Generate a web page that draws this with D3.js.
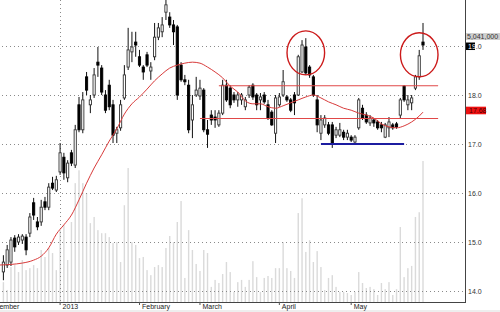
<!DOCTYPE html>
<html>
<head>
<meta charset="utf-8">
<script src="https://cdn.jsdelivr.net/npm/d3@7"></script>
<style>
  body { margin: 0; background: #fff; }
  svg { display: block; font-family: "Liberation Sans", Arial, sans-serif; }
</style>
</head>
<body>
<div id="chart"></div>
<script>
// daily candles, index 0 = first bar on screen
var opens = [14.39,14.53,14.59,15.08,15.00,15.04,15.10,15.18,15.80,15.41,
  15.41,15.82,15.71,16.20,16.06,16.43,16.73,16.31,16.82,16.57,
  17.80,17.29,18.37,17.80,18.00,18.67,18.55,18.00,18.20,17.80,
  17.22,17.33,17.94,18.57,18.88,19.08,18.78,18.57,18.82,18.49,
  18.78,19.18,19.29,19.69,19.59,19.43,19.39,18.61,18.31,18.20,
  17.49,18.00,17.98,18.10,17.29,17.59,17.55,17.39,17.63,18.20,
  18.14,18.00,17.90,17.90,17.76,18.00,18.20,18.00,17.90,18.00,
  17.80,17.65,17.22,17.80,18.00,17.96,17.90,18.00,18.00,18.47,
  18.98,18.57,18.37,17.90,17.22,17.39,17.39,17.39,17.18,17.18,
  17.24,17.14,17.14,17.04,17.33,17.73,17.59,17.43,17.49,17.45,
  17.39,17.14,17.33,17.39,17.41,17.59,18.18,17.80,17.84,18.14,
  18.37,19.08];
var highs = [14.73,14.94,15.10,15.14,15.16,15.16,15.16,15.59,15.90,15.51,
  15.86,15.92,16.20,16.33,16.35,17.02,16.82,16.67,16.88,17.39,
  17.96,18.06,18.47,18.00,18.55,18.98,18.61,18.10,18.31,17.90,
  17.35,17.90,18.61,19.37,19.29,19.29,18.92,18.61,18.88,18.67,
  19.47,19.47,19.59,19.94,19.69,19.53,19.43,18.67,18.41,18.31,
  18.00,18.37,18.31,18.14,17.49,17.69,17.69,17.69,18.31,18.31,
  18.20,18.06,18.06,18.04,17.96,18.20,18.24,18.04,18.04,18.06,
  17.90,17.69,18.00,18.04,18.51,18.00,17.94,18.06,18.82,19.12,
  19.16,18.61,18.41,18.00,17.59,17.59,17.45,17.45,17.35,17.43,
  17.29,17.29,17.18,17.18,17.94,17.80,17.65,17.59,17.53,17.49,
  17.45,17.43,17.55,17.43,17.45,17.94,18.20,18.00,18.00,18.41,
  18.92,19.47];
var lows = [14.22,14.47,14.51,14.80,14.94,14.96,14.73,15.10,15.45,15.24,
  15.33,15.65,15.65,16.06,16.02,16.37,16.27,16.22,16.55,16.51,
  17.24,17.22,18.00,17.63,17.94,18.37,18.00,17.63,17.69,17.02,
  17.02,17.27,17.90,18.51,18.67,18.78,18.57,18.31,18.57,18.31,
  18.71,19.12,19.18,19.53,19.37,19.02,17.90,18.27,18.20,17.22,
  17.12,17.96,17.90,17.24,16.92,17.39,17.33,17.35,17.59,17.86,
  17.73,17.84,17.76,17.80,17.69,17.94,17.90,17.69,17.69,17.82,
  17.49,17.37,17.02,17.76,17.96,17.86,17.65,17.59,17.98,18.45,
  18.41,18.35,17.96,17.24,17.08,17.33,17.18,16.92,17.12,17.14,
  17.08,17.08,17.04,16.98,17.29,17.49,17.41,17.37,17.35,17.29,
  17.24,17.12,17.14,17.29,17.31,17.53,17.86,17.69,17.69,18.10,
  18.31,18.92];
var closes = [14.59,14.84,15.04,14.90,15.10,15.12,14.84,15.51,15.55,15.31,
  15.71,15.71,16.12,16.10,16.27,16.82,16.41,16.61,16.61,17.29,
  17.29,17.90,18.10,17.90,18.41,18.61,18.06,17.69,17.76,17.18,
  17.29,17.80,18.41,18.92,18.98,19.02,18.61,18.47,18.61,18.57,
  19.18,19.37,19.43,19.84,19.43,19.29,18.00,18.31,18.27,17.29,
  17.80,18.10,18.14,17.29,17.20,17.49,17.49,17.63,18.20,17.90,
  17.80,17.90,18.00,18.00,17.90,18.16,17.96,17.80,17.96,17.86,
  17.53,17.39,17.94,17.96,18.27,17.90,17.69,17.84,18.78,19.02,
  18.45,18.41,18.00,17.39,17.49,17.53,17.22,17.02,17.29,17.29,
  17.14,17.22,17.08,17.14,17.90,17.53,17.45,17.53,17.43,17.33,
  17.33,17.39,17.45,17.33,17.35,17.90,17.90,17.90,17.94,18.37,
  18.80,19.02];
// volume in millions of shares
var volumes = [0.71,0.43,1.25,1.32,1.07,1.50,1.14,1.21,1.32,1.21,
  1.86,1.61,1.93,1.75,1.14,2.57,2.75,1.50,2.86,4.25,
  4.71,4.25,3.89,2.82,3.04,2.57,2.46,2.46,2.32,2.11,
  2.14,1.43,3.46,4.79,2.14,2.04,1.57,1.61,1.14,0.96,
  1.25,1.32,1.25,1.93,2.36,2.14,2.86,3.61,0.86,2.57,
  1.86,1.36,1.11,1.86,1.75,0.54,0.79,0.68,1.00,1.43,
  1.07,0.36,0.71,0.79,0.54,0.79,1.46,0.89,0.36,0.86,
  0.93,0.86,1.21,1.21,2.14,1.21,1.11,0.86,3.18,3.71,
  1.79,2.21,1.43,1.82,1.25,0.43,0.86,0.96,0.54,0.36,
  0.36,0.32,0.25,0.36,1.07,0.68,0.50,0.54,0.46,0.25,
  0.68,0.46,0.71,0.25,0.46,2.68,0.89,1.21,1.29,3.04,
  3.21,5.041];

// moving average
var maIndex = [-1,5,8,10,12,14,16,18,20,22,24,26,28,30,32,34,36,38,40,42,44,46,48,50,52,
  54,56,58,60,62,64,66,68,70,72,74,76,78,80,82,84,86,88,90,92,94,96,98,100,102,104,106,108,110,111];
var maValues = [14.53,14.57,14.63,14.71,14.88,15.16,15.35,15.55,15.86,16.20,16.51,16.78,17.06,17.31,17.61,
  17.82,17.96,18.12,18.29,18.43,18.55,18.61,18.65,18.67,18.65,
  18.57,18.47,18.35,18.18,18.06,17.88,17.82,17.82,17.76,17.73,
  17.78,17.84,17.90,17.96,18.00,17.94,17.86,17.80,17.73,17.69,
  17.63,17.59,17.53,17.41,17.35,17.33,17.37,17.45,17.57,17.65];

var monthTickIndex = [-5, 15, 36, 52, 73, 92];
var monthTickLabels = ["December", "2013", "February", "March", "April", "May"];
var priceTicks = [14, 15, 16, 17, 18, 19];

// drawn annotations: [startIndex, endIndex, price]
var redLines = [[52, 115, 17.52], [57, 115, 18.19]];
var blueLine = [84, 106, 17.0];
var circleIndex = [80, 110];
var circlePrice = [18.86, 18.82];

var lastVolumeLabel = "5,041,000";
var maLastLabel = "17.68";

var width = 500, height = 312;
var plotRight = 465, plotBottom = 302;

var svg = d3.select("#chart").append("svg")
  .attr("width", width)
  .attr("height", height)
  .attr("viewBox", "0 0 " + width + " " + height);

var x = d3.scaleLinear().domain([0, 111]).range([3.4, 423]);
var y = d3.scaleLinear().domain([14, 19]).range([291, 46]);
var yVol = d3.scaleLinear().domain([0, 5.041]).range([plotBottom, 161]);

// faint strip at the very bottom
svg.append("rect").attr("x", 0).attr("y", 310).attr("width", width).attr("height", 2).attr("fill", "#eeeeee");

// volume
svg.append("g").selectAll("rect").data(volumes).join("rect")
  .attr("x", function(d, i) { return x(i) - 0.7; })
  .attr("y", function(d) { return yVol(d); })
  .attr("width", 1.4)
  .attr("height", function(d) { return plotBottom - yVol(d); })
  .attr("fill", "#dadada");

// horizontal dotted grid
var grid = svg.append("g")
  .attr("transform", "translate(" + (plotRight - 2) + ",0)")
  .call(d3.axisLeft(y).tickValues(priceTicks).tickSize(plotRight - 2).tickFormat(""));
grid.select(".domain").remove();
grid.selectAll("line").attr("stroke", "#8a8a8a").attr("stroke-dasharray", "1,3");

// year separator
svg.append("line")
  .attr("x1", Math.round(x(15)) + 0.5).attr("x2", Math.round(x(15)) + 0.5)
  .attr("y1", 0).attr("y2", plotBottom)
  .attr("stroke", "#8a8a8a").attr("stroke-dasharray", "1,3");

// candles
var candles = d3.range(opens.length).map(function(i) {
  return { i: i, o: opens[i], h: highs[i], l: lows[i], c: closes[i] };
});
var cg = svg.append("g");
cg.selectAll("line").data(candles).join("line")
  .attr("x1", function(d) { return x(d.i); })
  .attr("x2", function(d) { return x(d.i); })
  .attr("y1", function(d) { return y(d.h); })
  .attr("y2", function(d) { return y(d.l); })
  .attr("stroke", "#111")
  .attr("stroke-width", 1);
cg.selectAll("rect").data(candles).join("rect")
  .attr("x", function(d) { return x(d.i) - 1.1; })
  .attr("y", function(d) { return y(Math.max(d.o, d.c)); })
  .attr("width", 2.2)
  .attr("height", function(d) { return Math.max(1, Math.abs(y(d.o) - y(d.c))); })
  .attr("fill", function(d) { return d.c >= d.o ? "#fff" : "#000"; })
  .attr("stroke", function(d) { return d.c >= d.o ? "#333" : "#000"; })
  .attr("stroke-width", 0.9);

// moving average
var maLine = d3.line()
  .x(function(d) { return x(d[0]); })
  .y(function(d) { return y(d[1]); })
  .curve(d3.curveMonotoneX);
svg.append("path")
  .datum(maIndex.map(function(d, k) { return [d, maValues[k]]; }))
  .attr("d", maLine)
  .attr("fill", "none")
  .attr("stroke", "#d83a3a")
  .attr("stroke-width", 1);

// support / resistance
svg.append("g").selectAll("line").data(redLines).join("line")
  .attr("x1", function(d) { return x(d[0]); })
  .attr("x2", function(d) { return x(d[1]); })
  .attr("y1", function(d) { return y(d[2]); })
  .attr("y2", function(d) { return y(d[2]); })
  .attr("stroke", "#e04848")
  .attr("stroke-width", 1.1);
svg.append("line")
  .attr("x1", x(blueLine[0])).attr("x2", x(blueLine[1]))
  .attr("y1", y(blueLine[2])).attr("y2", y(blueLine[2]))
  .attr("stroke", "#1c1ca0")
  .attr("stroke-width", 2);

// circled highs
svg.append("g").selectAll("ellipse").data(circleIndex).join("ellipse")
  .attr("cx", function(d) { return x(d); })
  .attr("cy", function(d, k) { return y(circlePrice[k]); })
  .attr("rx", 18.8)
  .attr("ry", 22)
  .attr("fill", "none")
  .attr("stroke", "#cc1a1a")
  .attr("stroke-width", 1.4);

// axes lines
svg.append("line").attr("x1", plotRight + 0.5).attr("x2", plotRight + 0.5)
  .attr("y1", 0).attr("y2", plotBottom + 0.5).attr("stroke", "#444");
svg.append("line").attr("x1", 0).attr("x2", plotRight + 1)
  .attr("y1", plotBottom + 0.5).attr("y2", plotBottom + 0.5).attr("stroke", "#444");

// last price box sits under the 19.0 label
var lastPrice = closes[closes.length - 1];
svg.append("rect").attr("x", 466).attr("y", y(lastPrice) - 2.5).attr("width", 9).attr("height", 7.5).attr("fill", "#000");

// price labels
var yAxis = svg.append("g")
  .attr("transform", "translate(" + plotRight + ",0)")
  .call(d3.axisRight(y).tickValues(priceTicks).tickSize(0).tickPadding(3).tickFormat(d3.format(".1f")));
yAxis.select(".domain").remove();
yAxis.selectAll("text")
  .attr("font-family", "Liberation Sans, Arial, sans-serif")
  .attr("font-size", 7)
  .attr("fill", "#333")
  .attr("dy", "0.35em");
// the top label: integer part shows white on the black price box
yAxis.selectAll("text").filter(function(d) { return d === 19; })
  .text(null)
  .call(function(t) {
    t.append("tspan").attr("fill", "#fff").text("19");
    t.append("tspan").text(".0");
  });

// month labels
var xAxis = svg.append("g")
  .attr("transform", "translate(0," + plotBottom + ")")
  .call(d3.axisBottom(x).tickValues(monthTickIndex).tickSize(3)
    .tickFormat(function(d, k) { return monthTickLabels[k]; }));
xAxis.select(".domain").remove();
xAxis.selectAll("line").attr("stroke", "#555").attr("transform", "translate(-0.5,0)");
xAxis.selectAll("text")
  .attr("font-family", "Liberation Sans, Arial, sans-serif")
  .attr("font-size", 7)
  .attr("fill", "#222")
  .attr("text-anchor", "start")
  .attr("x", 2)
  .attr("y", 6.5)
  .attr("dy", 0);

// last volume label
svg.append("rect").attr("x", 466).attr("y", 33).attr("width", 34).attr("height", 7).attr("fill", "#cfcfcf");
svg.append("text").attr("x", 467).attr("y", 39).attr("font-size", 7).attr("fill", "#333").text(lastVolumeLabel);

// moving average box
svg.append("rect").attr("x", 466).attr("y", y(+maLastLabel) - 4).attr("width", 20).attr("height", 7.6).attr("fill", "#ee1111");
svg.append("text").attr("x", 469).attr("y", y(+maLastLabel) + 2.5).attr("font-size", 7).attr("fill", "#4a0000").text(maLastLabel);
</script>
</body>
</html>
